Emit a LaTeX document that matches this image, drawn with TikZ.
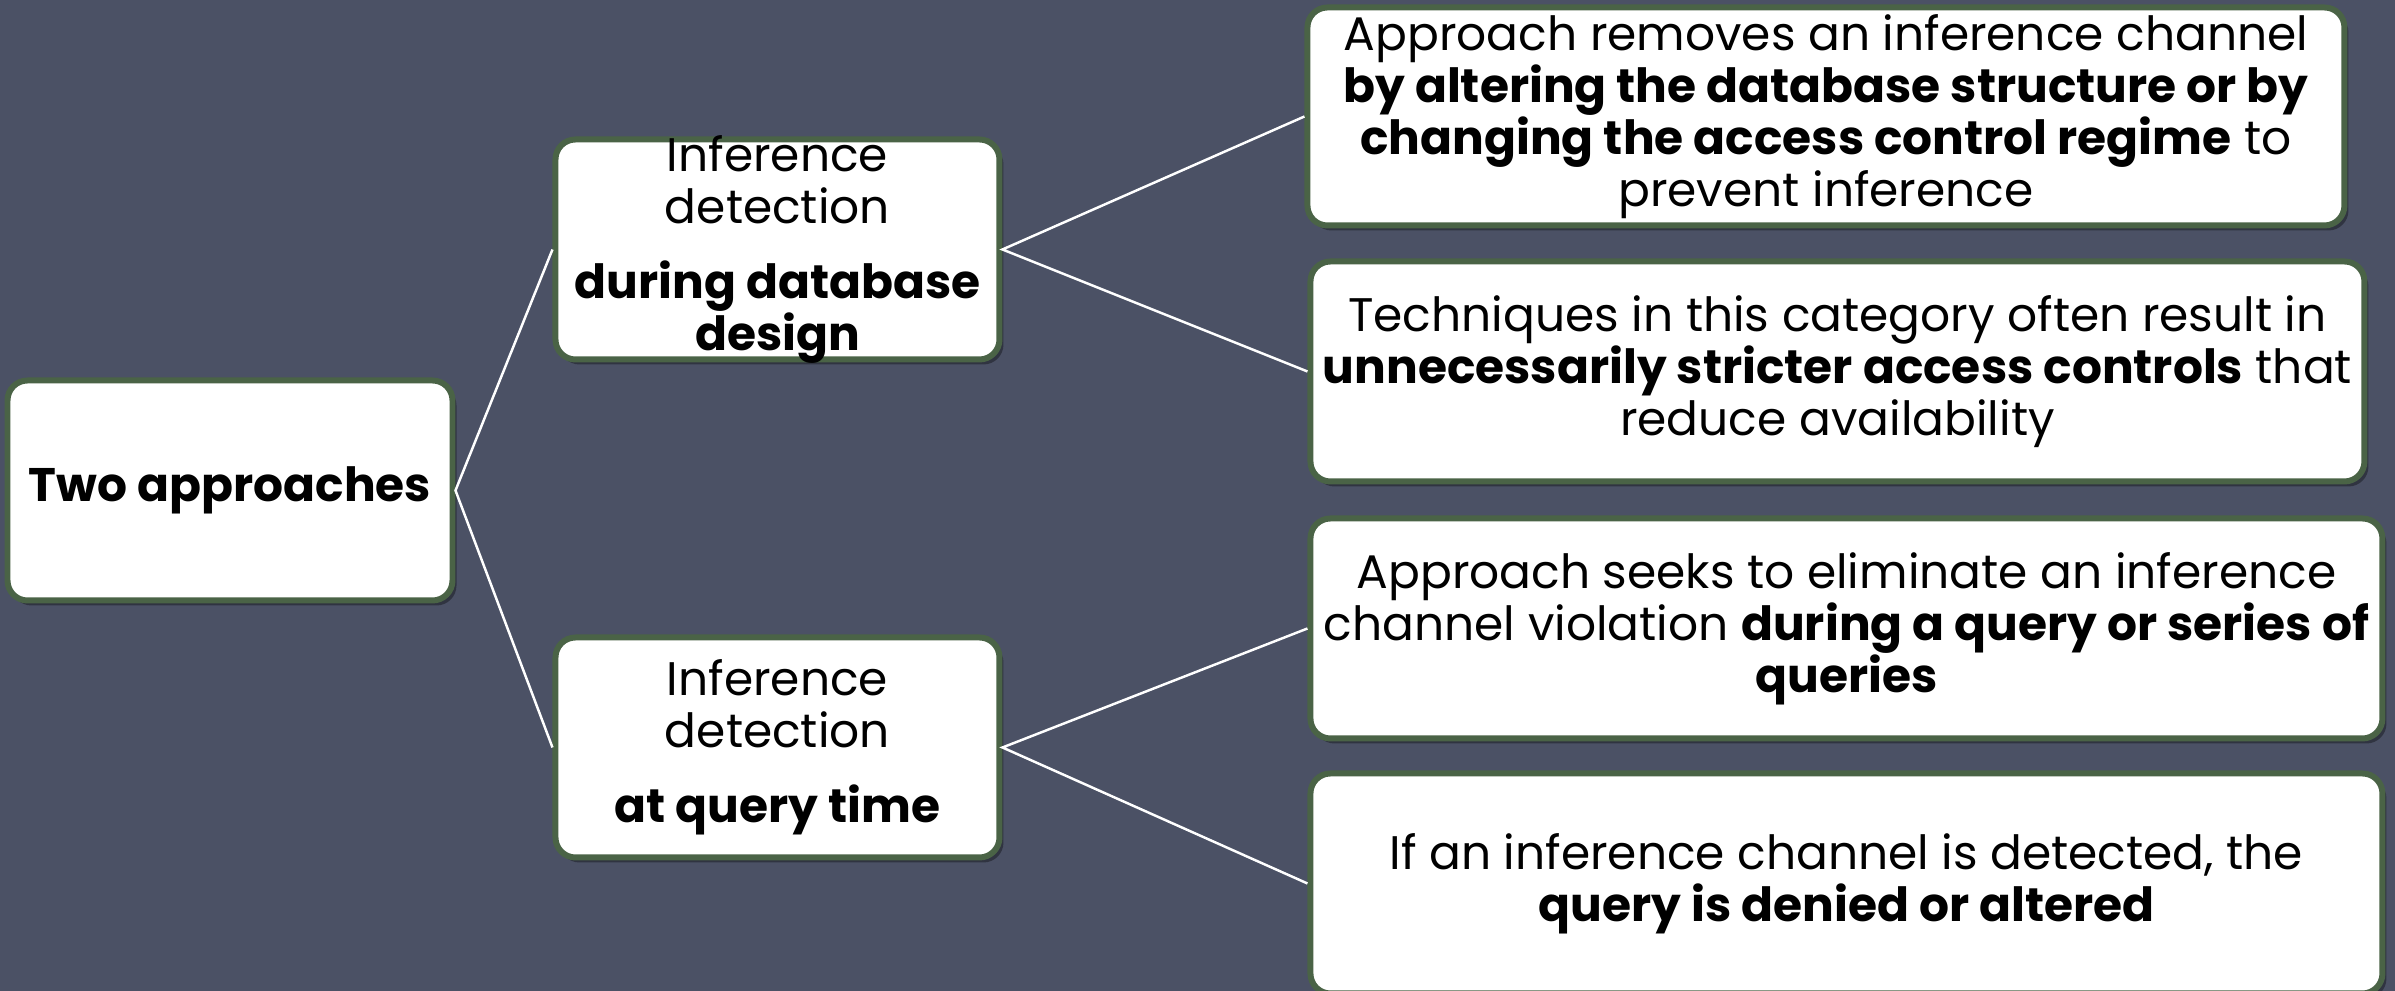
\documentclass[tikz,border=0pt]{standalone}
\usepackage{fontspec}
\setmainfont{Poppins}
\usetikzlibrary{positioning,shadows}

\definecolor{slate}{HTML}{4B5165}
\definecolor{moss}{HTML}{4A6346}
\newcommand{\midtext}[1]{\parbox[c][1.9cm][c]{4.3cm}{\centering #1}}

\tikzset{
  box/.style={draw=moss, line width=1.7pt, fill=white, rounded corners=0.2cm,
    align=center, inner sep=0pt, minimum height=2.2cm,
    font=\fontsize{13.4}{14.8}\selectfont,
    drop shadow={shadow xshift=0.04cm, shadow yshift=-0.05cm, opacity=0.35, fill=black}},
  link/.style={draw=white, line width=0.7pt},
}

\begin{document}
\begin{tikzpicture}
  \fill[slate] (0,0) rectangle (23.95,9.91);
  \useasboundingbox (0,0) rectangle (23.95,9.91);

  \node[box, minimum width=4.45cm] (t) at (2.30,5.005) {\textbf{Two approaches}};

  \node[box, minimum width=4.44cm, right=0.97cm of t, yshift=2.41cm] (d)
    {\midtext{Inference\\detection\\[6.5pt]\textbf{during database}\\\textbf{design}}};
  \node[box, minimum width=4.44cm, right=0.97cm of t, yshift=-2.57cm] (q)
    {\midtext{Inference\\detection\\[6.5pt]\textbf{at query time}}};

  \node[box, minimum width=10.37cm, minimum height=2.18cm, right=3.02cm of d, yshift=1.33cm] (d1)
    {Approach removes an inference channel\\
     \textbf{by altering the database structure or by}\\
     \textbf{changing the access control regime} to\\
     prevent inference};
  \node[box, minimum width=10.54cm, right=3.05cm of d, yshift=-1.22cm] (d2)
    {Techniques in this category often result in\\
     \textbf{unnecessarily stricter access controls} that\\
     reduce availability};
  \node[box, minimum width=10.72cm, right=3.05cm of q, yshift=1.19cm] (q1)
    {Approach seeks to eliminate an inference\\
     channel violation \textbf{during a query or series of}\\
     \textbf{queries}};
  \node[box, minimum width=10.72cm, right=3.05cm of q, yshift=-1.36cm] (q2)
    {If an inference channel is detected, the\\
     \textbf{query is denied or altered}};

  \draw[link] (d.west) -- (t.east) -- (q.west);
  \draw[link] (d1.west) -- (d.east) -- (d2.west);
  \draw[link] (q1.west) -- (q.east) -- (q2.west);
\end{tikzpicture}
\end{document}
